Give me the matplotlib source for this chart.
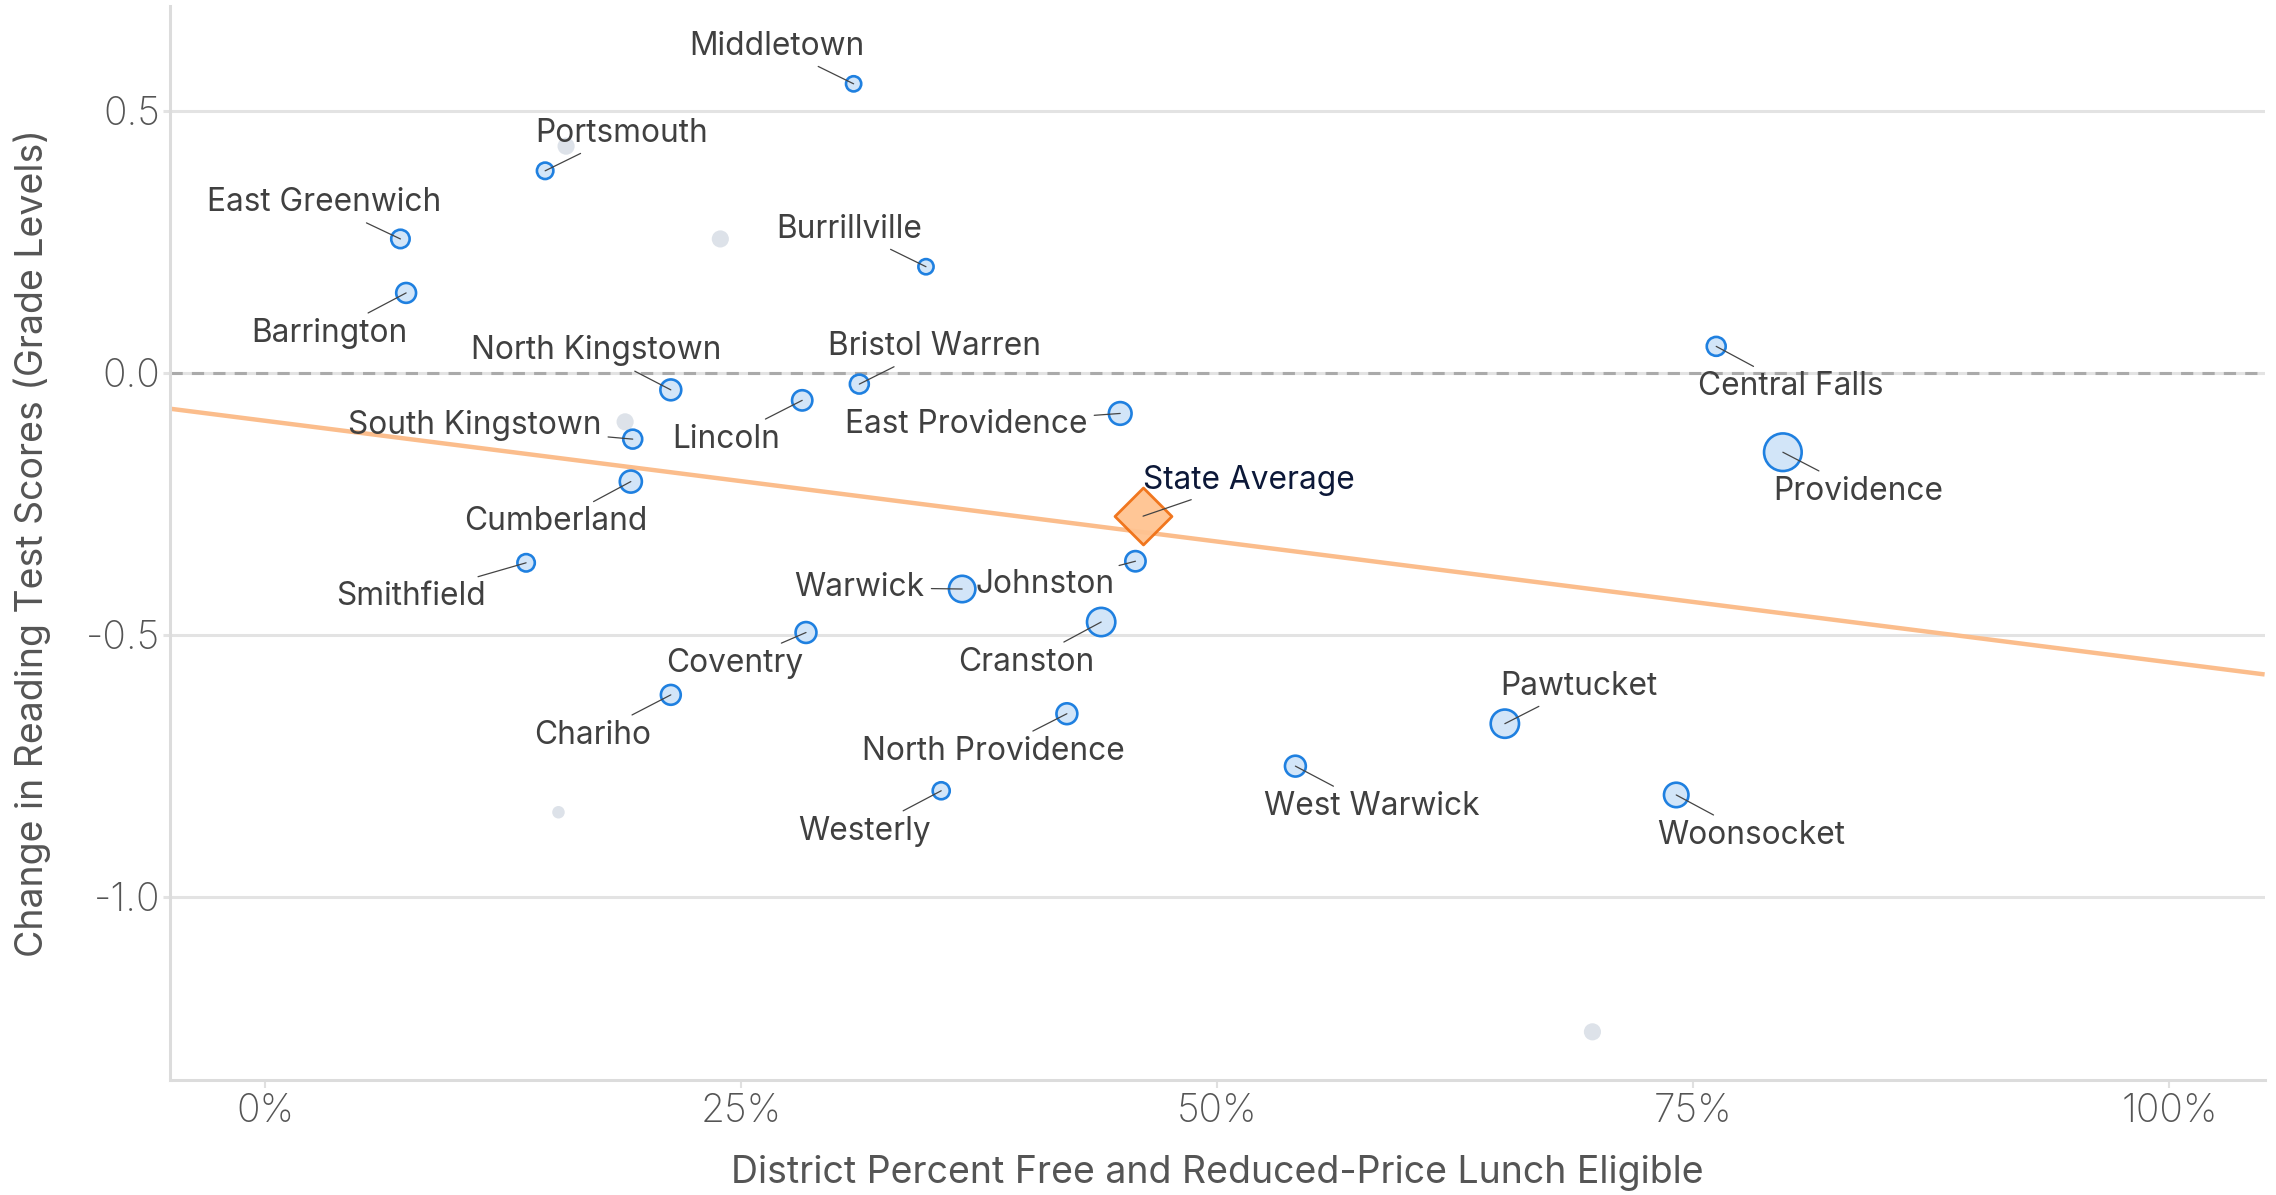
import numpy as np
import matplotlib.pyplot as plt

plt.rcParams['font.family'] = ['Inter', 'DejaVu Sans']

# labeled districts
districts = ['Middletown', 'Portsmouth', 'East Greenwich', 'Barrington', 'Burrillville',
             'North Kingstown', 'Lincoln', 'Bristol Warren', 'East Providence', 'Central Falls',
             'South Kingstown', 'Cumberland', 'Providence', 'Smithfield', 'Johnston',
             'Warwick', 'Cranston', 'Coventry', 'Chariho', 'North Providence',
             'Pawtucket', 'West Warwick', 'Westerly', 'Woonsocket']
frl_pct = [0.309, 0.147, 0.071, 0.074, 0.347,
           0.213, 0.282, 0.312, 0.449, 0.762,
           0.193, 0.192, 0.797, 0.137, 0.457,
           0.366, 0.439, 0.284, 0.213, 0.421,
           0.651, 0.541, 0.355, 0.741]
reading_change = [0.551, 0.385, 0.255, 0.152, 0.202,
                  -0.033, -0.053, -0.022, -0.078, 0.050,
                  -0.127, -0.208, -0.152, -0.363, -0.360,
                  -0.413, -0.476, -0.496, -0.615, -0.651,
                  -0.670, -0.751, -0.798, -0.806]
enrollment_k = [2.2, 2.8, 3.9, 4.8, 2.2,
                5.5, 5.1, 4.2, 6.9, 4.2,
                4.2, 6.4, 24.0, 3.3, 5.1,
                10.2, 12.1, 5.5, 4.8, 5.5,
                12.1, 5.5, 3.1, 8.4]

# unlabeled districts
other_frl = [0.158, 0.239, 0.189, 0.154, 0.697]
other_change = [0.432, 0.255, -0.094, -0.839, -1.258]
other_enrollment_k = [2.0, 2.0, 2.0, 0.5, 2.0]

state_avg_frl = 0.461
state_avg_change = -0.274

trend_intercept = -0.092
trend_slope = -0.461

x_ticks = [0, 0.25, 0.5, 0.75, 1.0]
x_tick_labels = ['0%', '25%', '50%', '75%', '100%']
y_ticks = [0.5, 0.0, -0.5, -1.0]
y_tick_labels = ['0.5', '0.0', '-0.5', '-1.0']

# label offsets in points (dx, dy) from the point
label_offsets = {
    'Middletown': (-55, 27), 'Portsmouth': (55, 27), 'East Greenwich': (-55, 26),
    'Barrington': (-55, -29), 'Burrillville': (-55, 27), 'North Kingstown': (-54, 28),
    'Lincoln': (-55, -28), 'Bristol Warren': (54, 27), 'East Providence': (-111, -8),
    'Central Falls': (54, -29), 'South Kingstown': (-114, 10), 'Cumberland': (-54, -29),
    'Providence': (54, -28), 'Smithfield': (-83, -24), 'Johnston': (-65, -17),
    'Warwick': (-74, 1), 'Cranston': (-54, -29), 'Coventry': (-51, -22),
    'Chariho': (-56, -29), 'North Providence': (-53, -27), 'Pawtucket': (53, 27),
    'West Warwick': (55, -29), 'Westerly': (-55, -29), 'Woonsocket': (54, -29),
}


def marker_area(n, edge_px=1.2):
    # sqrt scale: enrollment -> radius in pixels -> scatter area in points^2
    n = np.asarray(n, dtype=float)
    r_px = 8.8 + 11.2 * (np.sqrt(n) - np.sqrt(2.2)) / (np.sqrt(24) - np.sqrt(2.2))
    d_pt = 2 * (r_px - edge_px) * 0.72
    return d_pt ** 2


fig = plt.figure(figsize=(22.76, 11.95), dpi=100)
ax = fig.add_axes([0.0747, 0.0962, 0.9203, 0.899])

ax.set_xlim(-0.05, 1.05)
ax.set_ylim(-1.35, 0.7)

for y in y_ticks:
    ax.axhline(y, color='#e3e3e3', lw=2.2, zorder=0)
ax.axhline(0, color='#aaaaaa', lw=2.2, ls=(0, (4, 3)), zorder=0.5)

xs = np.array(ax.get_xlim())
ax.plot(xs, trend_intercept + trend_slope * xs, color='#fbbd8c', lw=3.2, zorder=1,
        solid_capstyle='butt')

ax.scatter(other_frl, other_change, s=marker_area(other_enrollment_k, 0), color='#dde2e9',
           edgecolors='none', zorder=2)
ax.scatter(frl_pct, reading_change, s=marker_area(enrollment_k), facecolor='#d2e5f8',
           edgecolors='#1f80e0', linewidths=1.9, zorder=3)
ax.scatter([state_avg_frl], [state_avg_change], marker='D', s=29 ** 2,
           facecolor='#ffc391', edgecolors='#f07015', linewidths=2, alpha=0.95, zorder=4)

for name, x, y in zip(districts, frl_pct, reading_change):
    ax.annotate(name, (x, y), xytext=label_offsets[name], textcoords='offset points',
                ha='center', va='center', fontsize=22.8, color='#404040', zorder=5,
                arrowprops=dict(arrowstyle='-', color='#444444', lw=0.9,
                                shrinkA=3, shrinkB=0))

ax.annotate('State Average', (state_avg_frl, state_avg_change), xytext=(76, 26),
            textcoords='offset points', ha='center', va='center', fontsize=22.8,
            color='#0c1838', zorder=5,
            arrowprops=dict(arrowstyle='-', color='#444444', lw=0.9, shrinkA=3, shrinkB=0))

ax.set_xticks(x_ticks)
ax.set_xticklabels(x_tick_labels, fontweight='light')
ax.set_yticks(y_ticks)
ax.set_yticklabels(y_tick_labels, fontweight='light')
ax.tick_params(axis='x', length=6, width=1.5, color='#e0e0e0', pad=3,
               labelsize=28, labelcolor='#555555')
ax.tick_params(axis='y', length=5, width=2.2, color='#e3e3e3', pad=2,
               labelsize=28, labelcolor='#555555')

for side in ['top', 'right']:
    ax.spines[side].set_visible(False)
for side in ['left', 'bottom']:
    ax.spines[side].set_color('#dcdcdc')
    ax.spines[side].set_linewidth(2.2)

ax.set_xlabel('District Percent Free and Reduced-Price Lunch Eligible', fontsize=27,
              color='#555555', va='center')
ax.set_ylabel('Change in Reading Test Scores (Grade Levels)', fontsize=27,
              color='#555555', va='center')
ax.xaxis.set_label_coords(0.5, -0.0866)
ax.yaxis.set_label_coords(-0.0659, 0.5)

fig.savefig('out.png', dpi=100, facecolor='white')
